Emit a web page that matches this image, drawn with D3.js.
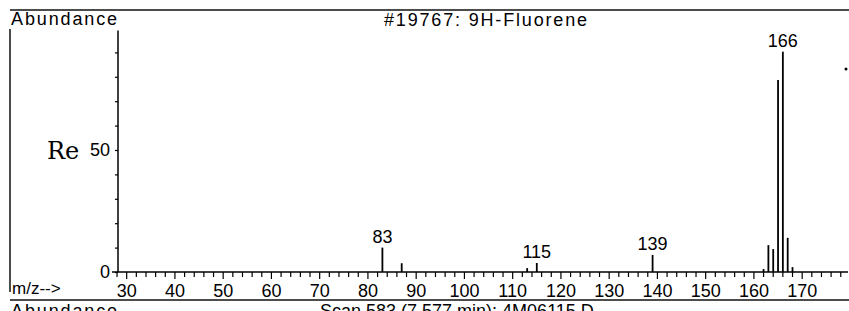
<!DOCTYPE html>
<html>
<head>
<meta charset="utf-8">
<script src="https://cdn.jsdelivr.net/npm/d3@7"></script>
<style>
  body { margin: 0; background: #fff; }
  svg { display: block; }
  text { font-family: Arial, "Liberation Sans", sans-serif; fill: #000; }
</style>
</head>
<body>
<div id="chart"></div>
<script>
// peaks (m/z and abundance)
const mz = [83, 87, 113, 115, 139, 162, 163, 164, 165, 166, 167, 168];
const abundance = [10, 3.6, 1.6, 3.7, 7, 1.2, 11, 9.4, 78.7, 90.3, 14, 2];
const labeledPeaks = [83, 115, 139, 166];
const xTickLabels = [30, 40, 50, 60, 70, 80, 90, 100, 110, 120, 130, 140, 150, 160, 170];
const yTickLabels = [0, 50];

const width = 849, height = 311;

const svg = d3.select("#chart").append("svg")
  .attr("width", width)
  .attr("height", height);

const x = d3.scaleLinear().domain([28.2, 179.5]).range([118, 848]);
const y = d3.scaleLinear().domain([0, 100]).range([272, 28]);

// frame lines
svg.append("line").attr("x1", 10).attr("x2", 849).attr("y1", 10).attr("y2", 10)
  .attr("stroke", "#111").attr("stroke-width", 1.5);
svg.append("line").attr("x1", 10).attr("x2", 10).attr("y1", 29).attr("y2", 292)
  .attr("stroke", "#111").attr("stroke-width", 1.5);
svg.append("line").attr("x1", 10).attr("x2", 849).attr("y1", 300).attr("y2", 300)
  .attr("stroke", "#111").attr("stroke-width", 1.5);

// header texts
svg.append("text").attr("x", 11).attr("y", 25)
  .style("font-size", "18px").attr("textLength", 106).text("Abundance");
svg.append("text").attr("x", 384).attr("y", 26)
  .style("font-size", "18px").attr("textLength", 203).text("#19767: 9H-Fluorene");

// y axis
const yAxis = d3.axisLeft(y)
  .tickValues(d3.range(0, 100, 10))
  .tickSize(3)
  .tickFormat("");
const gy = svg.append("g").attr("transform", "translate(118,0)").call(yAxis);
gy.select(".domain").attr("d", `M0,${y(99)}V${y(0)}`).attr("stroke-width", 1.5);
gy.selectAll(".tick line").attr("stroke-width", 1.2);

svg.append("text").attr("x", 47).attr("y", 159)
  .style("font-family", "'DejaVu Serif', 'Liberation Serif', serif")
  .style("font-size", "24px").text("Re");

svg.selectAll(".ylab").data(yTickLabels).join("text")
  .attr("class", "ylab")
  .attr("x", 110).attr("y", d => y(d) + 6)
  .attr("text-anchor", "end")
  .style("font-size", "18px")
  .text(d => d);

// x axis: minor ticks every 2, major every 10
const gx = svg.append("g").attr("transform", `translate(0,${y(0)})`);
gx.append("line").attr("x1", 112).attr("x2", 848).attr("y1", 0).attr("y2", 0)
  .attr("stroke", "#000").attr("stroke-width", 1.5);
gx.selectAll(".minor").data(d3.range(28, 180, 2)).join("line")
  .attr("class", "minor")
  .attr("x1", d => x(d)).attr("x2", d => x(d))
  .attr("y1", 0).attr("y2", d => d % 10 === 0 ? 7 : 5)
  .attr("stroke", "#000").attr("stroke-width", 1.2);
gx.selectAll(".xlab").data(xTickLabels).join("text")
  .attr("class", "xlab")
  .attr("x", d => x(d)).attr("y", 25)
  .attr("text-anchor", "middle")
  .style("font-size", "18px")
  .text(d => d);

svg.append("text").attr("x", 12).attr("y", 294)
  .style("font-size", "17px").text("m/z-->");

// peaks
const peaks = mz.map((m, i) => ({mz: m, value: abundance[i]}));
svg.selectAll(".peak").data(peaks).join("line")
  .attr("class", "peak")
  .attr("x1", d => x(d.mz)).attr("x2", d => x(d.mz))
  .attr("y1", y(0)).attr("y2", d => y(d.value))
  .attr("stroke", "#000").attr("stroke-width", 1.8);

svg.selectAll(".plab").data(peaks.filter(d => labeledPeaks.includes(d.mz))).join("text")
  .attr("class", "plab")
  .attr("x", d => x(d.mz)).attr("y", d => y(d.value) - 5)
  .attr("text-anchor", "middle")
  .style("font-size", "18px")
  .text(d => d.mz);

// stray dot on the right
svg.append("circle").attr("cx", 846).attr("cy", 69).attr("r", 1.5).attr("fill", "#000");

// footer texts, cut off at the bottom edge as in the scan
svg.append("text").attr("x", 11).attr("y", 317)
  .style("font-size", "18px").attr("textLength", 106).text("Abundance");
svg.append("text").attr("x", 320).attr("y", 317)
  .style("font-size", "18px").text("Scan 583 (7.577 min): 4M06115.D");
</script>
</body>
</html>
